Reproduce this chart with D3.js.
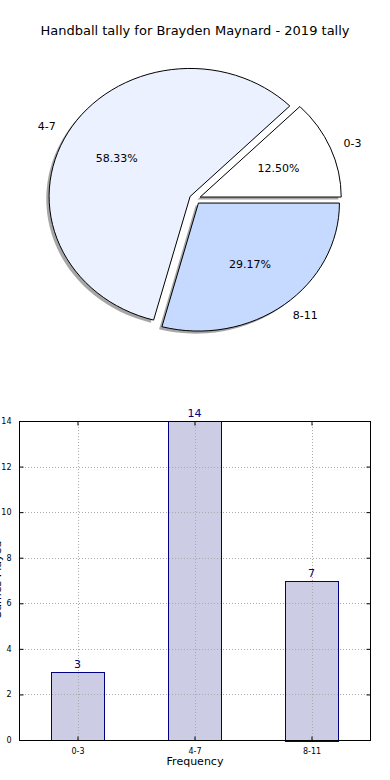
<!DOCTYPE html>
<html>
<head>
<meta charset="utf-8">
<script src="https://cdn.jsdelivr.net/npm/d3@7"></script>
<style>
  body { margin: 0; background: #fff; }
  svg { font-family: "DejaVu Sans", sans-serif; }
</style>
</head>
<body>
<svg id="chart" width="390" height="780"></svg>
<script>
// data
var categories = ["0-3", "4-7", "8-11"];
var counts = [3, 14, 7];
var sliceColors = ["#ffffff", "#ebf1fe", "#c6d9fe"];
var yTicks = [0, 2, 4, 6, 8, 10, 12, 14];
var titleText = "Handball tally for Brayden Maynard - 2019 tally";

var svg = d3.select("#chart");

// ---- pie ----
var cx = 195, cy = 199, rx = 141, ry = 128;
var explode = 0.04;
var total = d3.sum(counts);

svg.append("text")
    .attr("x", 195).attr("y", 35)
    .attr("text-anchor", "middle")
    .style("font-size", "13px")
    .text(titleText);

// matplotlib starts at 3 o'clock going counter-clockwise
var pie = d3.pie().sort(null)
    .startAngle(Math.PI / 2)
    .endAngle(Math.PI / 2 - 2 * Math.PI);
var arcs = pie(counts);
var arc = d3.arc().innerRadius(0).outerRadius(1);

function mid(d) { return (d.startAngle + d.endAngle) / 2; }

var pieG = svg.append("g")
    .attr("transform", "translate(" + cx + "," + cy + ") scale(" + rx + "," + ry + ")");

// shadows first
pieG.selectAll("path.shadow")
    .data(arcs)
    .enter().append("path")
    .attr("class", "shadow")
    .attr("d", arc)
    .attr("transform", function(d) {
        var a = mid(d);
        return "translate(" + (explode * Math.sin(a) - 0.02) + "," + (-explode * Math.cos(a) + 0.02) + ")";
    })
    .attr("fill", "#4d4d4d")
    .attr("fill-opacity", 0.5);

pieG.selectAll("path.slice")
    .data(arcs)
    .enter().append("path")
    .attr("class", "slice")
    .attr("d", arc)
    .attr("transform", function(d) {
        var a = mid(d);
        return "translate(" + (explode * Math.sin(a)) + "," + (-explode * Math.cos(a)) + ")";
    })
    .attr("fill", function(d, i) { return sliceColors[i]; })
    .attr("stroke", "#000")
    .attr("stroke-width", 1)
    .attr("vector-effect", "non-scaling-stroke")
    .attr("stroke-linejoin", "miter");

// labels
svg.selectAll("text.plabel")
    .data(arcs)
    .enter().append("text")
    .attr("class", "plabel")
    .attr("x", function(d) { return cx + rx * (1.1 + explode) * Math.sin(mid(d)); })
    .attr("y", function(d) { return cy - ry * (1.1 + explode) * Math.cos(mid(d)); })
    .attr("dy", "0.35em")
    .attr("text-anchor", function(d) { return Math.sin(mid(d)) > 0 ? "start" : "end"; })
    .style("font-size", "11px")
    .text(function(d, i) { return categories[i]; });

svg.selectAll("text.pct")
    .data(arcs)
    .enter().append("text")
    .attr("class", "pct")
    .attr("x", function(d) { return cx + rx * (0.6 + explode) * Math.sin(mid(d)); })
    .attr("y", function(d) { return cy - ry * (0.6 + explode) * Math.cos(mid(d)); })
    .attr("dy", "0.35em")
    .attr("text-anchor", "middle")
    .style("font-size", "11px")
    .text(function(d) { return (d.value / total * 100).toFixed(2) + "%"; });

// ---- bars ----
var axLeft = 19, axRight = 370, axTop = 421, axBottom = 740;
var x = d3.scalePoint().domain(categories).range([axLeft, axRight]).padding(0.5);
var y = d3.scaleLinear().domain([0, 14]).range([axBottom, axTop]);
var barW = x.step() * 0.45;

var g = svg.append("g");

g.selectAll("rect.bar")
    .data(counts)
    .enter().append("rect")
    .attr("class", "bar")
    .attr("x", function(d, i) { return Math.round(x(categories[i]) - barW / 2) + 0.5; })
    .attr("y", function(d) { return Math.round(y(d)) + 0.5; })
    .attr("width", Math.round(barW))
    .attr("height", function(d) { return Math.round(axBottom - y(d)); })
    .attr("fill", "#ccccE5")
    .attr("stroke", "#000080")
    .attr("stroke-width", 1);

// grid on top, like matplotlib classic
g.selectAll("line.hgrid")
    .data(yTicks)
    .enter().append("line")
    .attr("x1", axLeft).attr("x2", axRight)
    .attr("y1", function(d) { return Math.round(y(d)) + 0.5; })
    .attr("y2", function(d) { return Math.round(y(d)) + 0.5; })
    .attr("stroke", "#aaa").attr("stroke-dasharray", "1,2");

g.selectAll("line.vgrid")
    .data(categories)
    .enter().append("line")
    .attr("x1", function(d) { return Math.round(x(d)) + 0.5; })
    .attr("x2", function(d) { return Math.round(x(d)) + 0.5; })
    .attr("y1", axTop).attr("y2", axBottom)
    .attr("stroke", "#aaa").attr("stroke-dasharray", "1,2");

// axes with inward ticks on all sides
g.append("g")
    .attr("transform", "translate(" + (axLeft + 0.5) + ",0)")
    .call(d3.axisLeft(y).tickValues(yTicks).tickSizeInner(-4).tickSizeOuter(0).tickPadding(8))
    .call(function(s) { s.select(".domain").remove(); s.selectAll("text").style("font-size", "8px").style("font-family", "DejaVu Sans"); });

g.append("g")
    .attr("transform", "translate(" + (axRight + 0.5) + ",0)")
    .call(d3.axisRight(y).tickValues(yTicks).tickSizeInner(-4).tickSizeOuter(0).tickFormat(""))
    .call(function(s) { s.select(".domain").remove(); });

g.append("g")
    .attr("transform", "translate(0," + (axBottom + 0.5) + ")")
    .call(d3.axisBottom(x).tickSizeInner(-4).tickSizeOuter(0).tickPadding(8))
    .call(function(s) { s.select(".domain").remove(); s.selectAll("text").style("font-size", "8px").style("font-family", "DejaVu Sans"); });

g.append("g")
    .attr("transform", "translate(0," + (axTop + 0.5) + ")")
    .call(d3.axisTop(x).tickSizeInner(-4).tickSizeOuter(0).tickFormat(""))
    .call(function(s) { s.select(".domain").remove(); });

g.append("rect")
    .attr("x", axLeft + 0.5).attr("y", axTop + 0.5)
    .attr("width", axRight - axLeft).attr("height", axBottom - axTop)
    .attr("fill", "none").attr("stroke", "#000");

// value labels
g.selectAll("text.val")
    .data(counts)
    .enter().append("text")
    .attr("class", "val")
    .attr("x", function(d, i) { return x(categories[i]); })
    .attr("y", function(d) { return y(d) - 4; })
    .attr("text-anchor", "middle")
    .attr("fill", "#000080")
    .style("font-size", "11px")
    .text(function(d) { return d; });

g.append("text")
    .attr("x", 195).attr("y", 765)
    .attr("text-anchor", "middle")
    .style("font-size", "11px")
    .text("Frequency");

g.append("text")
    .attr("transform", "translate(1,580) rotate(-90)")
    .attr("text-anchor", "middle")
    .style("font-size", "11px")
    .text("Games Played");
</script>
</body>
</html>
